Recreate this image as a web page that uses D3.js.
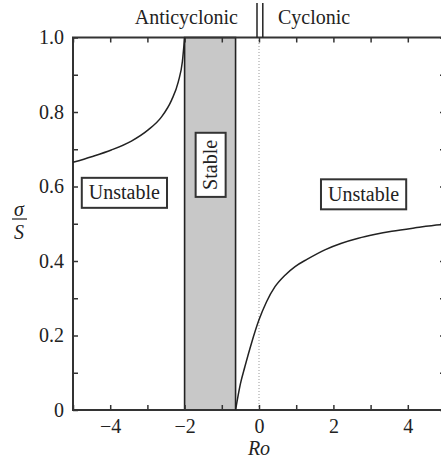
<!DOCTYPE html>
<html>
<head>
<meta charset="utf-8">
<script src="https://cdn.jsdelivr.net/npm/d3@7"></script>
<style>
  body { margin: 0; background: #fff; }
  text { font-family: "Liberation Serif", "DejaVu Serif", serif; fill: #222; }
</style>
</head>
<body>
<script>
// values
const leftRo    = [-5, -4.5, -3.97, -3.43, -2.98, -2.62, -2.35, -2.17, -2.06, -2.0];
const leftSigma = [0.665, 0.68, 0.698, 0.722, 0.752, 0.787, 0.832, 0.881, 0.935, 1.0];
const rightRo    = [-0.63, -0.5, -0.38, -0.2, 0, 0.2, 0.43, 0.7, 0.97, 1.3, 1.77, 2.2, 2.67, 3.1, 3.57, 4.2, 4.87, 5];
const rightSigma = [0, 0.07, 0.116, 0.18, 0.242, 0.29, 0.331, 0.362, 0.385, 0.405, 0.43, 0.447, 0.461, 0.471, 0.48, 0.489, 0.497, 0.498];
const stableRange = [-2, -0.63];
const xTicks = [-4, -2, 0, 2, 4];
const yTicks = [0, 0.2, 0.4, 0.6, 0.8, 1.0];
const labels = [
  { text: "Unstable", ro: -3.62, s: 0.583, rotate: false },
  { text: "Stable",   ro: -1.3,  s: 0.658, rotate: true },
  { text: "Unstable", ro: 2.81,  s: 0.579, rotate: false }
];

const w = 441, h = 461;
const x = d3.scaleLinear().domain([-5, 5]).range([73, 445]);
const y = d3.scaleLinear().domain([0, 1]).range([410, 37.5]);

const svg = d3.select("body").append("svg")
  .attr("width", w).attr("height", h);

// stable band
svg.append("rect")
  .attr("x", x(stableRange[0]))
  .attr("y", y(1))
  .attr("width", x(stableRange[1]) - x(stableRange[0]))
  .attr("height", y(0) - y(1))
  .attr("fill", "#c8c8c8")
  .attr("stroke", "#222")
  .attr("stroke-width", 1.6);

// Ro = 0 dotted line
svg.append("line")
  .attr("x1", x(0)).attr("x2", x(0))
  .attr("y1", y(0)).attr("y2", y(1))
  .attr("stroke", "#999").attr("stroke-width", 1)
  .attr("stroke-dasharray", "1,2");

// axes with inward ticks
const axisStyle = g => {
  g.selectAll(".domain").remove();
  g.selectAll(".tick line").attr("stroke", "#333").attr("stroke-width", 1.5);
  g.selectAll("text").style("font-family", "Liberation Serif").style("font-size", "20px").attr("fill", "#222");
};

svg.append("g")
  .attr("transform", `translate(0,${y(0)})`)
  .call(d3.axisBottom(x).tickValues(d3.range(-5, 6, 1)).tickSizeInner(-5).tickSizeOuter(0)
    .tickPadding(9).tickFormat(d => xTicks.includes(d) ? (d < 0 ? "\u2212" + Math.abs(d) : d) : ""))
  .call(axisStyle);

svg.append("g")
  .attr("transform", `translate(0,${y(1)})`)
  .call(d3.axisTop(x).tickValues(d3.range(-5, 6, 1)).tickSizeInner(-5).tickSizeOuter(0).tickFormat(""))
  .call(axisStyle);

svg.append("g")
  .attr("transform", `translate(${x(-5)},0)`)
  .call(d3.axisLeft(y).tickValues(d3.range(0, 1.01, 0.1)).tickSizeInner(-5).tickSizeOuter(0)
    .tickPadding(9).tickFormat(d => {
      const v = Math.round(d * 10) / 10;
      return yTicks.some(t => Math.abs(t - v) < 1e-6) ? (v === 0 ? "0" : v.toFixed(1)) : "";
    }))
  .call(axisStyle);

svg.append("g")
  .attr("transform", `translate(${x(5)},0)`)
  .call(d3.axisRight(y).tickValues(d3.range(0, 1.01, 0.1)).tickSizeInner(-5).tickSizeOuter(0).tickFormat(""))
  .call(axisStyle);

// frame
svg.append("rect")
  .attr("x", x(-5)).attr("y", y(1))
  .attr("width", x(5) - x(-5)).attr("height", y(0) - y(1))
  .attr("fill", "none").attr("stroke", "#333").attr("stroke-width", 2);

// curves
const line = d3.line().x(d => x(d[0])).y(d => y(d[1])).curve(d3.curveMonotoneX);
[[leftRo, leftSigma], [rightRo, rightSigma]].forEach(([xs, ys]) => {
  svg.append("path")
    .datum(xs.map((v, i) => [v, ys[i]]))
    .attr("d", line)
    .attr("fill", "none")
    .attr("stroke", "#222")
    .attr("stroke-width", 1.5);
});

// boxed labels
labels.forEach(l => {
  const g = svg.append("g")
    .attr("transform", `translate(${x(l.ro)},${y(l.s)})${l.rotate ? " rotate(-90)" : ""}`);
  const t = g.append("text")
    .attr("text-anchor", "middle")
    .attr("dy", "0.33em")
    .style("font-size", "20px")
    .text(l.text);
  const bb = t.node().getBBox();
  g.insert("rect", "text")
    .attr("x", bb.x - 7).attr("y", -15)
    .attr("width", bb.width + 14).attr("height", 30)
    .attr("fill", "#fff")
    .attr("stroke", "#333").attr("stroke-width", 2);
});

// top labels
svg.append("text")
  .attr("x", x(0) - 21).attr("y", 24)
  .attr("text-anchor", "end")
  .style("font-size", "20px")
  .text("Anticyclonic");
svg.append("text")
  .attr("x", x(0) + 19).attr("y", 24)
  .style("font-size", "20px")
  .text("Cyclonic");
[-2, 3.8].forEach(off => {
  svg.append("line")
    .attr("x1", x(0) + off).attr("x2", x(0) + off)
    .attr("y1", 3).attr("y2", y(1))
    .attr("stroke", "#222").attr("stroke-width", 1.5);
});

// axis titles
svg.append("text")
  .attr("x", x(0)).attr("y", 455)
  .attr("text-anchor", "middle")
  .style("font-size", "20px")
  .style("font-style", "italic")
  .text("Ro");

const yl = svg.append("g").attr("transform", "translate(19,219)");
yl.append("text")
  .attr("y", -3).attr("text-anchor", "middle")
  .style("font-size", "20px").style("font-style", "italic")
  .text("\u03c3");
yl.append("line")
  .attr("x1", -7).attr("x2", 8).attr("y1", 0).attr("y2", 0)
  .attr("stroke", "#222").attr("stroke-width", 1.2);
yl.append("text")
  .attr("y", 20).attr("text-anchor", "middle")
  .style("font-size", "20px").style("font-style", "italic")
  .text("S");
</script>
</body>
</html>
